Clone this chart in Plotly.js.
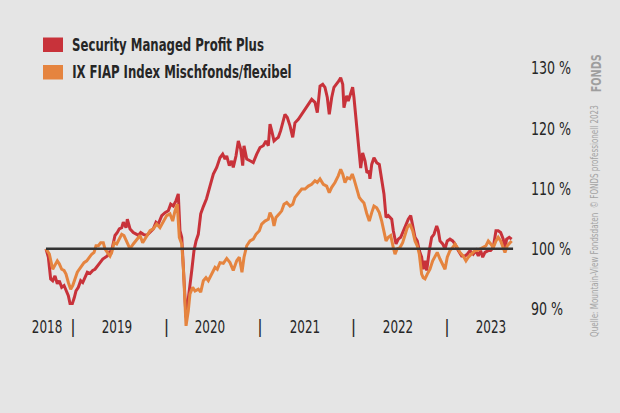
<!DOCTYPE html>
<html>
<head>
<meta charset="utf-8">
<script src="https://cdn.plot.ly/plotly-3.0.1.min.js"></script>
<style>
html,body{margin:0;padding:0;background:#e5e5e5;}
#chart{width:620px;height:413px;}
</style>
</head>
<body>
<div id="chart"></div>
<script>
// ---- data (time in decimal years, values in % of start) ----
const seriesNames = ["Security Managed Profit Plus", "IX FIAP Index Mischfonds/flexibel"];

const tProfitPlus = [2018.711,2018.736,2018.761,2018.783,2018.807,2018.832,2018.853,2018.879,2018.904,2018.925,2018.950,2018.968,2018.993,2019.014,2019.032,2019.057,2019.082,2019.104,2019.128,2019.153,2019.182,2019.211,2019.235,2019.260,2019.289,2019.318,2019.342,2019.367,2019.388,2019.403,2019.425,2019.449,2019.474,2019.495,2019.521,2019.538,2019.567,2019.581,2019.610,2019.645,2019.681,2019.698,2019.724,2019.752,2019.788,2019.824,2019.859,2019.888,2019.912,2019.949,2019.984,2020.019,2020.045,2020.073,2020.102,2020.126,2020.144,2020.163,2020.180,2020.198,2020.209,2020.222,2020.244,2020.270,2020.294,2020.316,2020.340,2020.366,2020.394,2020.428,2020.465,2020.501,2020.537,2020.572,2020.601,2020.626,2020.644,2020.672,2020.697,2020.714,2020.743,2020.768,2020.794,2020.815,2020.829,2020.858,2020.893,2020.928,2020.965,2021.000,2021.035,2021.064,2021.089,2021.107,2021.125,2021.150,2021.171,2021.196,2021.221,2021.243,2021.267,2021.292,2021.321,2021.350,2021.374,2021.410,2021.446,2021.481,2021.517,2021.553,2021.588,2021.613,2021.642,2021.671,2021.695,2021.720,2021.741,2021.767,2021.791,2021.820,2021.845,2021.863,2021.885,2021.898,2021.927,2021.944,2021.970,2021.991,2022.005,2022.027,2022.041,2022.062,2022.077,2022.098,2022.123,2022.144,2022.166,2022.176,2022.195,2022.219,2022.248,2022.276,2022.302,2022.326,2022.348,2022.372,2022.409,2022.426,2022.455,2022.479,2022.505,2022.533,2022.561,2022.586,2022.612,2022.633,2022.658,2022.682,2022.704,2022.729,2022.746,2022.765,2022.783,2022.811,2022.836,2022.861,2022.890,2022.907,2022.925,2022.954,2022.979,2023.003,2023.032,2023.061,2023.086,2023.121,2023.157,2023.193,2023.217,2023.246,2023.281,2023.310,2023.335,2023.360,2023.382,2023.406,2023.441,2023.467,2023.495,2023.524,2023.548,2023.574,2023.602,2023.620,2023.638,2023.666,2023.692];
const profitPlus = [100.0,98.6,95.0,94.7,95.5,94.2,94.7,93.6,93.9,93.0,92.2,90.9,90.9,91.9,93.0,93.6,94.7,94.4,95.2,96.1,95.9,96.4,96.6,97.2,97.7,98.3,98.6,98.8,99.4,99.1,100.5,102.2,102.7,103.3,103.5,104.4,103.5,104.9,103.3,102.7,102.4,102.2,102.7,102.4,102.2,102.7,103.3,104.4,104.1,105.5,106.0,106.3,107.4,107.1,108.0,109.1,103.0,101.9,96.4,91.4,88.6,90.3,93.6,96.4,99.7,101.3,102.4,105.8,107.0,108.3,110.4,112.4,113.5,115.1,115.7,114.9,115.4,113.8,114.6,113.5,115.4,117.9,116.5,113.8,117.1,114.9,114.6,114.3,115.7,116.8,117.1,117.9,117.1,120.7,119.6,117.9,118.2,118.5,119.6,120.9,122.3,121.8,120.4,118.5,120.9,121.5,122.3,123.2,124.0,124.8,124.3,122.6,127.0,127.3,126.8,125.1,122.3,125.1,126.8,127.3,127.9,128.4,127.3,123.4,125.4,124.5,125.9,126.8,125.1,121.8,119.0,115.4,113.4,115.9,114.6,112.6,112.9,111.6,114.0,115.1,114.3,114.0,111.8,109.1,105.2,105.5,104.9,103.0,100.8,101.6,101.9,103.0,104.1,104.9,105.5,104.1,101.9,101.3,99.7,98.6,96.6,98.0,96.4,99.7,101.9,102.4,103.8,103.0,101.3,100.8,100.0,101.3,101.6,101.3,100.8,99.7,98.8,98.8,99.1,99.7,99.1,99.7,98.8,99.7,98.6,99.4,99.7,99.7,100.2,103.0,103.0,102.7,101.6,100.0,101.6,101.9,101.6];

const tMischfonds = [2018.711,2018.747,2018.783,2018.807,2018.832,2018.853,2018.879,2018.904,2018.925,2018.950,2018.975,2018.997,2019.021,2019.046,2019.067,2019.093,2019.118,2019.147,2019.174,2019.200,2019.225,2019.246,2019.271,2019.296,2019.324,2019.342,2019.367,2019.396,2019.414,2019.439,2019.467,2019.495,2019.521,2019.545,2019.574,2019.610,2019.645,2019.681,2019.717,2019.745,2019.781,2019.824,2019.859,2019.895,2019.930,2019.966,2020.002,2020.037,2020.066,2020.091,2020.115,2020.137,2020.163,2020.180,2020.198,2020.209,2020.233,2020.251,2020.280,2020.305,2020.340,2020.366,2020.394,2020.422,2020.447,2020.483,2020.519,2020.543,2020.572,2020.608,2020.644,2020.679,2020.714,2020.751,2020.779,2020.807,2020.829,2020.858,2020.893,2020.928,2020.957,2020.993,2021.018,2021.053,2021.089,2021.107,2021.132,2021.150,2021.171,2021.206,2021.232,2021.257,2021.286,2021.321,2021.350,2021.374,2021.410,2021.446,2021.481,2021.517,2021.553,2021.588,2021.613,2021.642,2021.677,2021.713,2021.741,2021.767,2021.802,2021.837,2021.863,2021.885,2021.909,2021.934,2021.963,2021.987,2022.005,2022.034,2022.062,2022.088,2022.112,2022.141,2022.169,2022.195,2022.219,2022.248,2022.276,2022.302,2022.326,2022.348,2022.372,2022.398,2022.426,2022.444,2022.468,2022.497,2022.526,2022.551,2022.575,2022.604,2022.633,2022.658,2022.682,2022.704,2022.729,2022.746,2022.765,2022.789,2022.818,2022.847,2022.872,2022.896,2022.925,2022.954,2022.979,2023.003,2023.032,2023.061,2023.086,2023.110,2023.139,2023.174,2023.203,2023.228,2023.264,2023.299,2023.324,2023.353,2023.382,2023.417,2023.442,2023.468,2023.495,2023.524,2023.548,2023.574,2023.602,2023.620,2023.645,2023.674,2023.692];
const mischfonds = [100.0,99.1,96.6,97.2,98.0,97.5,96.6,96.4,95.8,94.4,93.3,93.9,95.0,96.1,96.6,97.2,97.7,98.0,98.6,99.1,99.4,100.5,100.5,101.0,101.0,100.0,99.4,98.8,99.4,101.0,100.8,101.6,102.4,102.2,101.3,100.0,100.8,101.6,102.2,101.0,101.9,103.0,103.3,104.1,103.5,104.6,105.5,105.8,104.6,106.3,107.4,101.9,100.8,96.9,91.4,87.2,89.7,92.5,93.6,93.0,93.3,92.8,94.7,95.2,94.7,95.8,96.9,96.6,97.7,97.6,98.4,97.7,96.4,98.0,98.6,96.1,98.6,100.5,101.3,101.6,102.4,103.0,104.1,104.6,104.9,106.0,105.2,103.8,105.2,105.8,106.3,107.4,107.7,107.1,107.4,108.5,109.3,109.9,109.9,110.4,110.7,111.3,111.0,111.6,110.7,110.4,109.3,110.2,111.0,112.1,113.2,112.4,111.0,111.8,111.6,112.4,111.6,110.2,108.5,108.0,107.6,105.9,104.6,106.0,107.1,106.8,106.0,104.6,103.0,101.3,101.9,102.2,100.2,99.1,100.0,100.2,101.0,102.2,103.5,104.1,103.0,101.3,100.5,99.1,95.8,95.2,95.0,95.8,96.6,98.0,98.8,99.4,98.3,97.5,96.6,98.6,99.7,100.2,100.8,100.2,99.4,98.8,98.0,98.6,99.1,99.7,99.7,100.0,100.2,100.5,101.3,100.8,100.2,101.3,101.9,101.3,100.2,99.4,100.5,101.0,101.3];

const yTickVals = [90, 100, 110, 120, 130];
const yTickText = ["90 %", "100 %", "110 %", "120 %", "130 %"];
const yearLabels = ["2018", "2019", "2020", "2021", "2022", "2023"];
const yearLabelPos = [2018.722, 2019.47, 2020.465, 2021.48, 2022.476, 2023.47];
const yearBoundaries = [2019, 2020, 2021, 2022, 2023];
const baseline = 100;
const sourceText = "Quelle: Mountain-View Fondsdaten  \u00A9 FONDS professionell 2023";

// ---- style ----
const RED = "#c8323a", ORANGE = "#e5843f", INK = "#262626", BG = "#e5e5e5";
const FONT = "'DejaVu Sans Condensed', 'DejaVu Sans', sans-serif";
const W = 620, H = 413, M = {l: 20, r: 100, t: 60, b: 73, pad: 0};
const pw = W - M.l - M.r, ph = H - M.t - M.b;
const pxX = x => (x - M.l) / pw;          // pixel -> paper (x)
const pxY = y => (H - M.b - y) / ph;      // pixel -> paper (y)

const traces = [
  {x: tProfitPlus, y: profitPlus, name: seriesNames[0], type: "scatter", mode: "lines",
   line: {color: RED, width: 3}, hoverinfo: "skip"},
  {x: tMischfonds, y: mischfonds, name: seriesNames[1], type: "scatter", mode: "lines",
   line: {color: ORANGE, width: 3}, hoverinfo: "skip"}
];

const xTickVals = yearLabelPos.concat(yearBoundaries);
const xTickText = yearLabels.concat(yearBoundaries.map(() => "|"));

const swatchColors = [RED, ORANGE];
const rowCenters = [44.5, 72];
const shapes = [
  {type: "line", xref: "x", yref: "y", x0: tProfitPlus[0], x1: tProfitPlus[tProfitPlus.length - 1] + 0.015,
   y0: baseline, y1: baseline, line: {color: "#333333", width: 2.5}, layer: "above"}
];
const annotations = [];
seriesNames.forEach((n, i) => {
  const c = rowCenters[i];
  shapes.push({type: "rect", xref: "paper", yref: "paper",
    x0: pxX(43), x1: pxX(63), y0: pxY(c + 7.5), y1: pxY(c - 7), fillcolor: swatchColors[i], line: {width: 0}});
  annotations.push({xref: "paper", yref: "paper", x: pxX(70), y: pxY(c), xanchor: "left", yanchor: "middle",
    text: "<b>" + n + "</b>", showarrow: false, font: {family: FONT, size: 18, color: INK}});
});
annotations.push({xref: "paper", yref: "paper", x: pxX(594), y: pxY(221), xanchor: "center", yanchor: "middle",
  text: sourceText, textangle: -90, showarrow: false, font: {family: FONT, size: 11, color: "#a3a3a3"}});
annotations.push({xref: "paper", yref: "paper", x: pxX(596), y: pxY(74), xanchor: "center", yanchor: "middle",
  text: "<b>FONDS</b>", textangle: -90, showarrow: false, font: {family: FONT, size: 14, color: "#9e9e9e"}});

const layout = {
  width: W, height: H, margin: M,
  paper_bgcolor: BG, plot_bgcolor: BG,
  showlegend: false,
  font: {family: FONT, color: INK},
  xaxis: {range: [2018.433, 2023.781], showgrid: false, zeroline: false, showline: false,
    tickmode: "array", tickvals: xTickVals, ticktext: xTickText, ticks: "",
    ticklabelposition: "inside", ticklabelstandoff: 0,
    tickfont: {family: FONT, size: 18, color: INK}, fixedrange: true},
  yaxis: {range: [84.86, 131.33], side: "right", showgrid: false, zeroline: false, showline: false,
    tickmode: "array", tickvals: yTickVals, ticktext: yTickText, ticks: "", ticklabelstandoff: 10,
    tickfont: {family: FONT, size: 18, color: INK}, fixedrange: true},
  shapes: shapes,
  annotations: annotations
};

// horizontal squeeze of text to mimic the condensed face of the original
function squeeze(t, s, mode) {
  const b = t.getBBox();
  const p = mode === "left" ? b.x : b.x + b.width / 2;
  const tr = t.getAttribute("transform") || "";
  t.setAttribute("transform", (tr + " translate(" + p + ",0) scale(" + s + ",1) translate(" + (-p) + ",0)").trim());
}

Plotly.newPlot("chart", traces, layout, {staticPlot: true, displayModeBar: false}).then(gd => {
  gd.querySelectorAll(".xtick text").forEach(t => { if (t.textContent.trim() !== "|") squeeze(t, 0.74, "center"); });
  gd.querySelectorAll(".ytick text").forEach(t => squeeze(t, 0.78, "left"));
  const ann = Array.from(gd.querySelectorAll("g.annotation")).map(g => g.querySelector("text"));
  if (ann.length >= 4) {
    const sLeg = 192 / ann[0].getBBox().width;
    squeeze(ann[0], sLeg, "left");
    squeeze(ann[1], sLeg, "left");
    squeeze(ann[2], 232 / ann[2].getBBox().width, "center");
    squeeze(ann[3], 38 / ann[3].getBBox().width, "center");
  }
});
</script>
</body>
</html>
